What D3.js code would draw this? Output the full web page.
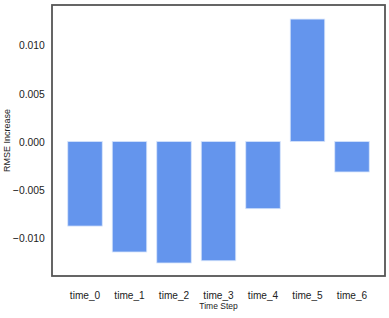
<!DOCTYPE html>
<html>
<head>
<meta charset="utf-8">
<script src="https://cdn.jsdelivr.net/npm/d3@7"></script>
<style>
  body { margin: 0; background: #fff; }
  text { font-family: "Liberation Sans", Arial, sans-serif; fill: #222; }
</style>
</head>
<body>
<div id="chart"></div>
<script>
const categories = ["time_0", "time_1", "time_2", "time_3", "time_4", "time_5", "time_6"];
const values = [-0.00877, -0.01146, -0.0126, -0.01237, -0.00697, 0.0127, -0.00316];
const yTicks = [-0.010, -0.005, 0.000, 0.005, 0.010];

const width = 389;
const height = 318;
const margin = { top: 5, right: 4, bottom: 42, left: 52 };
const plotRight = width - margin.right;
const plotBottom = height - margin.bottom;

const svg = d3.select("#chart")
  .append("svg")
  .attr("width", width)
  .attr("height", height);

const xScale = d3.scaleBand()
  .domain(categories)
  .range([margin.left + 10.75, plotRight - 10.75])
  .paddingInner(0.225)
  .paddingOuter(0.1125);

const yScale = d3.scaleLinear()
  .domain([-0.01395, 0.01416])
  .range([plotBottom, margin.top]);

// bars
svg.append("g")
  .selectAll("rect")
  .data(values)
  .enter()
  .append("rect")
  .attr("x", (d, i) => xScale(categories[i]))
  .attr("width", xScale.bandwidth())
  .attr("y", (d) => yScale(Math.max(0, d)))
  .attr("height", (d) => Math.abs(yScale(d) - yScale(0)))
  .attr("fill", "#6495ed")
  .attr("stroke", "#d6e4fb")
  .attr("stroke-width", 0.8);

// axes (labels only, no tick marks)
const yAxis = d3.axisLeft(yScale)
  .tickValues(yTicks)
  .tickFormat((v) => d3.format(".3f")(v).replace("-", "\u2212"))
  .tickSize(0)
  .tickPadding(8);

svg.append("g")
  .attr("transform", `translate(${margin.left}, 0)`)
  .call(yAxis)
  .call((g) => g.select(".domain").remove())
  .call((g) => g.selectAll("text").attr("font-size", 11.5).attr("font-family", null).attr("transform", "scale(0.9,1)"));

const xAxis = d3.axisBottom(xScale).tickSize(0).tickPadding(15);

svg.append("g")
  .attr("transform", `translate(0, ${plotBottom})`)
  .call(xAxis)
  .call((g) => g.select(".domain").remove())
  .call((g) => g.selectAll("text").attr("font-size", 11.5).attr("font-family", null).attr("transform", "scale(0.88,1)"));

// frame
svg.append("rect")
  .attr("x", margin.left)
  .attr("y", margin.top)
  .attr("width", plotRight - margin.left)
  .attr("height", plotBottom - margin.top)
  .attr("fill", "none")
  .attr("stroke", "#555")
  .attr("stroke-width", 1.8);

// axis titles
svg.append("text")
  .attr("transform", `translate(10, ${(margin.top + plotBottom) / 2}) rotate(-90)`)
  .attr("text-anchor", "middle")
  .attr("font-size", 9)
  .text("RMSE Increase");

svg.append("text")
  .attr("x", (margin.left + plotRight) / 2)
  .attr("y", 309)
  .attr("text-anchor", "middle")
  .attr("font-size", 8.5)
  .text("Time Step");
</script>
</body>
</html>
